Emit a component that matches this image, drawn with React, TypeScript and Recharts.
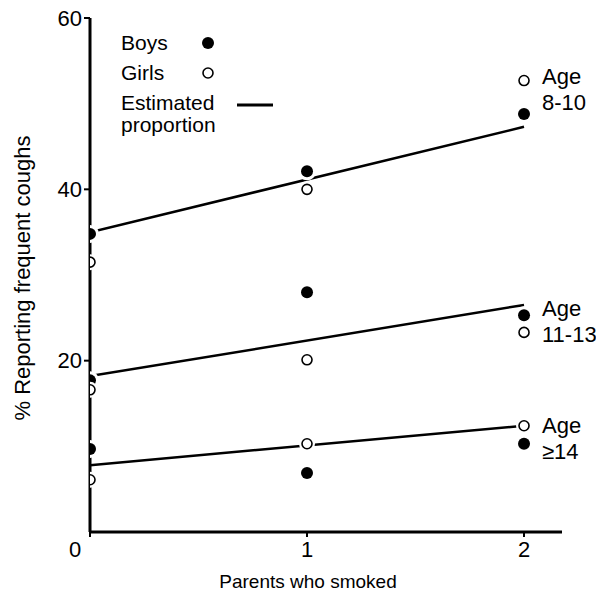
import { ComposedChart, Line, Scatter, XAxis, YAxis, Label, ReferenceDot } from 'recharts';

// parents who smoked (x) and % reporting frequent coughs (y)
const parentsSmoked = [0, 1, 2];
const boys8to10 = [34.8, 42.1, 48.8];
const girls8to10 = [31.5, 40.0, 52.7];
const boys11to13 = [17.7, 28.0, 25.3];
const girls11to13 = [16.6, 20.1, 23.3];
const boys14plus = [9.7, 6.9, 10.3];
const girls14plus = [6.1, 10.3, 12.4];

// estimated proportion lines (fitted ends)
const estimateX = [0, 2];
const est8to10 = [35.0, 47.3];
const est11to13 = [18.2, 26.5];
const est14plus = [7.8, 12.4];

const ageGroups = [['Age', '8-10'], ['Age', '11-13'], ['Age', '\u226514']];
const ageLabelY = [51.8, 24.7, 11.1];

const xTicks = [0, 1, 2];
const yTicks = [20, 40, 60];

const FONT = '"Liberation Sans", Arial, sans-serif';

const toPoints = (xs: number[], ys: number[]) => xs.map((x, i) => ({ x, y: ys[i] }));

const boys = [boys8to10, boys11to13, boys14plus].flatMap((ys) => toPoints(parentsSmoked, ys));
const girls = [girls8to10, girls11to13, girls14plus].flatMap((ys) => toPoints(parentsSmoked, ys));
const estimates = [est8to10, est11to13, est14plus].map((ys) => toPoints(estimateX, ys));

const FilledDot = (props: any) => (
  <g>
    <circle cx={props.cx} cy={props.cy} r={9} fill="#fff" />
    <circle cx={props.cx} cy={props.cy} r={6} fill="#000" />
  </g>
);

const OpenDot = (props: any) => (
  <g>
    <circle cx={props.cx} cy={props.cy} r={8} fill="#fff" />
    <circle cx={props.cx} cy={props.cy} r={5} fill="#fff" stroke="#000" strokeWidth={1.6} />
  </g>
);

const XTick = (props: any) => {
  const { x, y, payload } = props;
  const dx = payload.value === 0 ? -15 : 0;
  return (
    <text x={x + dx} y={y} dy={18} textAnchor="middle" fontSize={22} fontFamily={FONT} fill="#000">
      {payload.value}
    </text>
  );
};

const LegendBox = () => (
  <div style={{ position: 'absolute', left: 121, top: 28, fontFamily: FONT, fontSize: 21, color: '#000', lineHeight: '22px' }}>
    <div style={{ display: 'flex', alignItems: 'center', height: 30 }}>
      <span style={{ width: 80 }}>Boys</span>
      <svg width={14} height={14}><circle cx={7} cy={7} r={6} fill="#000" /></svg>
    </div>
    <div style={{ display: 'flex', alignItems: 'center', height: 30 }}>
      <span style={{ width: 80 }}>Girls</span>
      <svg width={14} height={14}><circle cx={7} cy={7} r={5} fill="#fff" stroke="#000" strokeWidth={1.6} /></svg>
    </div>
    <div style={{ display: 'flex', alignItems: 'flex-start', marginTop: 4 }}>
      <span style={{ width: 116 }}>Estimated<br />proportion</span>
      <svg width={40} height={22}><line x1={0} y1={13} x2={36} y2={13} stroke="#000" strokeWidth={3} /></svg>
    </div>
  </div>
);

const AgeLabel = (lines: string[]) => (props: any) => {
  const { x, y } = props.viewBox;
  return (
    <text x={x + 18} y={y} fontSize={22} fontFamily={FONT} fill="#000">
      <tspan x={x + 18} dy={-4}>{lines[0]}</tspan>
      <tspan x={x + 18} dy={26}>{lines[1]}</tspan>
    </text>
  );
};

export default function App() {
  return (
    <div style={{ position: 'absolute', left: 0, top: 0, width: 596, height: 594, background: '#fff' }}>
      <ComposedChart width={596} height={594} margin={{ top: 18, right: 34, bottom: 0, left: 0 }}>
        <XAxis
          dataKey="x"
          type="number"
          domain={[0, 2.175]}
          ticks={xTicks}
          allowDataOverflow
          height={62}
          axisLine={{ stroke: '#000', strokeWidth: 3 }}
          tickLine={{ stroke: '#000', strokeWidth: 2 }}
          tickSize={5}
          tick={<XTick />}
        >
          <Label value="Parents who smoked" position="insideBottom" offset={6} dx={-18} fontSize={19} fontFamily={FONT} fill="#000" />
        </XAxis>
        <YAxis
          dataKey="y"
          type="number"
          domain={[0, 60]}
          ticks={yTicks}
          width={90}
          axisLine={{ stroke: '#000', strokeWidth: 3 }}
          tickLine={{ stroke: '#000', strokeWidth: 2 }}
          tickSize={6}
          tickMargin={2}
          tick={{ fontSize: 22, fontFamily: FONT, fill: '#000' }}
        >
          <Label value="% Reporting frequent coughs" angle={-90} position="insideLeft" offset={22} dx={0} dy={3} fontSize={22} fontFamily={FONT} fill="#000" style={{ textAnchor: 'middle' }} />
        </YAxis>
        {estimates.map((pts, i) => (
          <Line
            key={`est-${i}`}
            data={pts}
            dataKey="y"
            type="linear"
            stroke="#000"
            strokeWidth={2.5}
            dot={false}
            activeDot={false}
            legendType="none"
            isAnimationActive={false}
          />
        ))}
        <Scatter data={boys} dataKey="y" shape={<FilledDot />} isAnimationActive={false} />
        <Scatter data={girls} dataKey="y" shape={<OpenDot />} isAnimationActive={false} />
        {ageGroups.map((lines, i) => (
          <ReferenceDot key={`age-${i}`} x={2} y={ageLabelY[i]} r={0} fill="none" stroke="none" label={AgeLabel(lines)} />
        ))}
      </ComposedChart>
      <LegendBox />
    </div>
  );
}
